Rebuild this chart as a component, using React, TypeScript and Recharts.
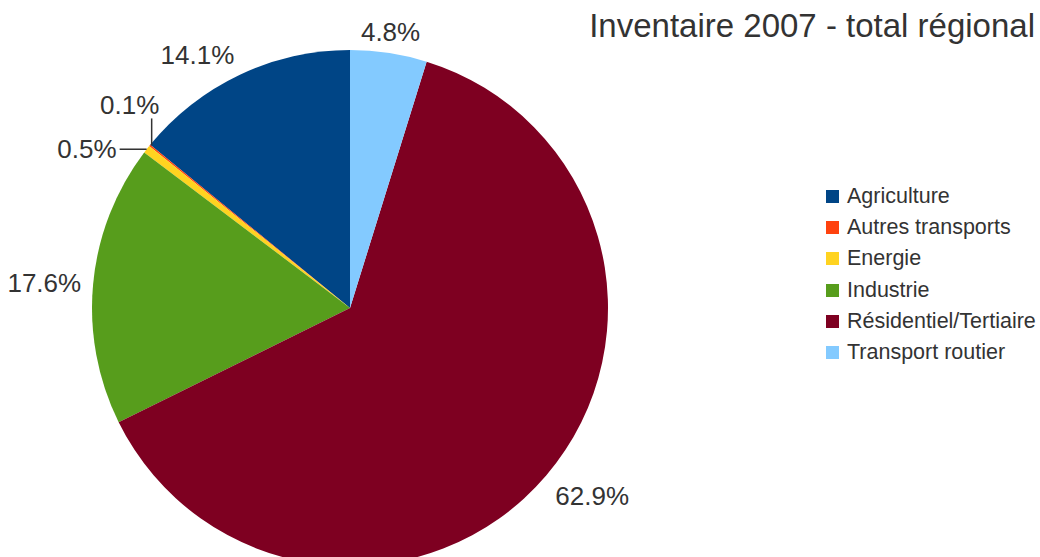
import { PieChart, Pie, Cell, Legend, Customized } from 'recharts';

const CATEGORIES = ['Agriculture', 'Autres transports', 'Energie', 'Industrie', 'Résidentiel/Tertiaire', 'Transport routier'];
const SHARES = [14.1, 0.1, 0.5, 17.6, 62.9, 4.8];
const COLORS = ['#004586', '#ff420e', '#ffd320', '#579d1c', '#7e0021', '#83caff'];

const TITLE = 'Inventaire 2007 - total régional';
const FONT = '"Liberation Sans", Arial, sans-serif';
const TEXT_COLOR = '#333333';

const data = CATEGORIES.map((name, i) => ({ name, value: SHARES[i] }));

const RADIAN = Math.PI / 180;

const renderLabel = (props: any) => {
    const { cx, cy, midAngle, outerRadius, value, name } = props;
    const cos = Math.cos(-midAngle * RADIAN);
    const sin = Math.sin(-midAngle * RADIAN);
    const text = `${Number(value).toFixed(1)}%`;
    const common = { fontSize: 26, fontFamily: FONT, fill: TEXT_COLOR };

    // tiny slices get a short leader line
    if (value < 1) {
        const ex = cx + outerRadius * cos;
        const ey = cy + outerRadius * sin;
        if (name === 'Autres transports') {
            return (
                <g>
                    <line x1={ex + 2} y1={ey} x2={ex + 2} y2={ey - 27} stroke={TEXT_COLOR} strokeWidth={1.5} />
                    <text x={ex - 20} y={ey - 31} textAnchor="middle" {...common}>{text}</text>
                </g>
            );
        }
        return (
            <g>
                <line x1={ex} y1={ey} x2={ex - 27} y2={ey} stroke={TEXT_COLOR} strokeWidth={1.5} />
                <text x={ex - 30} y={ey} textAnchor="end" dominantBaseline="central" {...common}>{text}</text>
            </g>
        );
    }

    const r = outerRadius + 12;
    const x = cx + r * cos;
    const y = cy + r * sin;
    const anchor = Math.abs(cos) < 0.3 ? 'middle' : cos > 0 ? 'start' : 'end';
    const baseline = sin < -0.7 ? 'alphabetic' : sin > 0.5 ? 'hanging' : 'central';
    return (
        <text x={x} y={y + (baseline === 'hanging' ? 2 : 0)} textAnchor={anchor} dominantBaseline={baseline} {...common}>{text}</text>
    );
};

const LegendContent = (props: any) => {
    const items = props.payload && props.payload.length
        ? props.payload.map((p: any) => ({ label: p.value, color: p.color }))
        : CATEGORIES.map((c, i) => ({ label: c, color: COLORS[i] }));
    return (
        <div style={{ fontFamily: FONT, fontSize: 21.5, color: TEXT_COLOR }}>
            {items.map((it: any) => (
                <div key={it.label} style={{ display: 'flex', alignItems: 'center', height: 31.2, whiteSpace: 'nowrap' }}>
                    <span style={{ width: 13, height: 13, background: it.color, marginRight: 8, display: 'inline-block' }} />
                    <span>{it.label}</span>
                </div>
            ))}
        </div>
    );
};

const Title = () => (
    <text x={1035} y={37} textAnchor="end" fontSize={33} fontFamily={FONT} fill={TEXT_COLOR}>
        {TITLE}
    </text>
);

export default function App() {
    return (
        <div style={{ position: 'absolute', left: 0, top: 0, width: 1040, height: 557, background: '#ffffff', overflow: 'hidden' }}>
            <PieChart width={1040} height={557} margin={{ top: 0, right: 0, bottom: 0, left: 0 }}>
                <Pie
                    data={data}
                    dataKey="value"
                    nameKey="name"
                    cx={350}
                    cy={308}
                    outerRadius={258}
                    startAngle={90}
                    endAngle={450}
                    stroke="none"
                    label={renderLabel}
                    labelLine={false}
                    isAnimationActive={false}
                >
                    {data.map((_, i) => (
                        <Cell key={`cell-${i}`} fill={COLORS[i]} />
                    ))}
                </Pie>
                <Legend
                    content={<LegendContent />}
                    layout="vertical"
                    wrapperStyle={{ position: 'absolute', left: 826, top: 181, width: 214 }}
                />
                <Customized component={Title} />
            </PieChart>
        </div>
    );
}
